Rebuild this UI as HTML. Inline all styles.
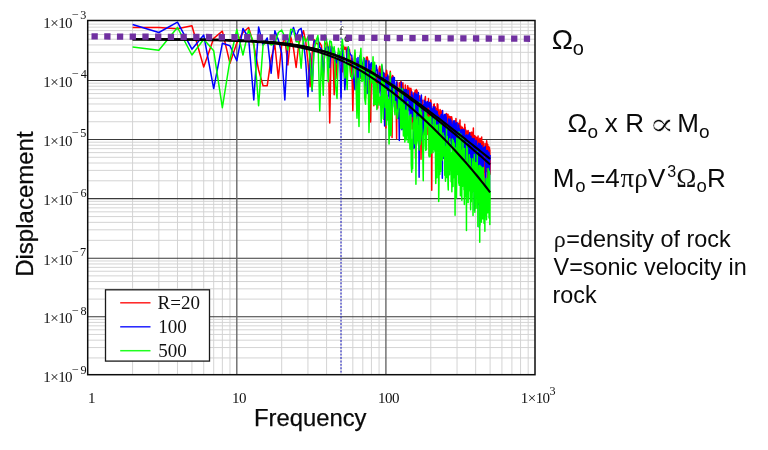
<!DOCTYPE html>
<html lang="en"><head><meta charset="utf-8"><title>Displacement spectra</title>
<style>
html,body{margin:0;padding:0;background:#fff;}
body{width:768px;height:450px;overflow:hidden;}
svg{display:block;}
.se{font-family:"Liberation Serif","DejaVu Serif",serif;fill:#111;}
.sa{font-family:"Liberation Sans","DejaVu Sans",sans-serif;fill:#0a0a0a;}
.ma{font-family:"DejaVu Math TeX Gyre","DejaVu Sans",sans-serif;fill:#0a0a0a;}
</style></head><body>
<svg width="768" height="450" viewBox="0 0 768 450">
<rect width="768" height="450" fill="#fff"/>
<path d="M132.58 20.5V374.7M158.84 20.5V374.7M177.47 20.5V374.7M191.92 20.5V374.7M203.72 20.5V374.7M213.70 20.5V374.7M222.35 20.5V374.7M229.98 20.5V374.7M281.68 20.5V374.7M307.94 20.5V374.7M326.57 20.5V374.7M341.02 20.5V374.7M352.82 20.5V374.7M362.80 20.5V374.7M371.45 20.5V374.7M379.08 20.5V374.7M430.78 20.5V374.7M457.04 20.5V374.7M475.67 20.5V374.7M490.12 20.5V374.7M501.92 20.5V374.7M511.90 20.5V374.7M520.55 20.5V374.7M528.18 20.5V374.7M87.7 62.72H535.0M87.7 52.33H535.0M87.7 44.95H535.0M87.7 39.23H535.0M87.7 34.55H535.0M87.7 30.60H535.0M87.7 27.17H535.0M87.7 24.15H535.0M87.7 121.74H535.0M87.7 111.35H535.0M87.7 103.98H535.0M87.7 98.26H535.0M87.7 93.59H535.0M87.7 89.64H535.0M87.7 86.22H535.0M87.7 83.20H535.0M87.7 180.81H535.0M87.7 170.40H535.0M87.7 163.02H535.0M87.7 157.29H535.0M87.7 152.61H535.0M87.7 148.65H535.0M87.7 145.23H535.0M87.7 142.20H535.0M87.7 240.33H535.0M87.7 229.82H535.0M87.7 222.36H535.0M87.7 216.57H535.0M87.7 211.84H535.0M87.7 207.85H535.0M87.7 204.39H535.0M87.7 201.33H535.0M87.7 299.12H535.0M87.7 288.84H535.0M87.7 281.54H535.0M87.7 275.88H535.0M87.7 271.26H535.0M87.7 267.35H535.0M87.7 263.96H535.0M87.7 260.97H535.0M87.7 357.94H535.0M87.7 347.55H535.0M87.7 340.18H535.0M87.7 334.46H535.0M87.7 329.79H535.0M87.7 325.84H535.0M87.7 322.42H535.0M87.7 319.40H535.0" stroke="#d2d2d2" stroke-width="0.95" fill="none"/>
<path d="M87.7 80.50H535.0M87.7 139.50H535.0M87.7 198.60H535.0M87.7 258.30H535.0M87.7 316.70H535.0" stroke="#3a3a3a" stroke-width="1.1" fill="none"/>
<path d="M236.80 20.5V374.7M385.90 20.5V374.7" stroke="#6a6a6a" stroke-width="1.4" fill="none"/>
<path d="M341.02 20.5V374.7" stroke="#3838c8" stroke-width="1.2" stroke-dasharray="1.9 1.5" fill="none"/>
<polyline points="132.58,27.50 158.84,27.50 177.47,28.70 191.92,25.80 203.72,67.00 213.70,38.30 222.35,31.20 229.98,63.30 236.80,43.00 242.97,32.50 248.61,27.50 253.79,45.00 258.59,70.00 263.06,85.70 267.23,85.70 271.16,58.30 274.86,45.00 278.36,78.30 281.68,45.00 284.84,38.30 287.86,65.00 290.73,36.70 293.49,48.30 296.13,67.50 298.67,45.00 301.12,36.70 303.47,30.80 305.74,41.70 307.94,61.70 310.06,86.70 312.12,53.30 314.11,39.72 316.04,43.13 317.92,44.14 319.74,42.79 321.52,45.96 323.25,81.21 324.93,44.58 326.57,42.02 328.17,47.68 329.73,123.00 331.25,45.95 332.74,49.29 334.19,94.72 335.62,55.50 337.01,78.42 338.37,52.73 339.71,52.87 341.02,54.55 342.30,71.86 343.56,46.01 344.79,49.28 346.00,47.04 347.19,64.30 348.35,63.57 349.50,49.65 350.63,76.31 351.73,58.24 352.82,110.74 353.89,63.27 354.95,52.88 355.98,70.76 357.00,76.38 358.01,61.80 358.99,63.23 359.97,66.55 360.93,78.32 361.87,76.75 362.80,63.85 363.72,62.98 364.63,61.21 365.52,97.83 366.40,57.17 367.27,57.02 368.13,62.00 368.98,99.64 369.81,77.55 370.64,121.98 371.45,68.47 372.26,69.20 373.05,66.00 373.83,105.77 374.61,83.75 375.38,71.46 376.13,93.57 376.88,76.68 377.62,108.12 378.35,98.21 379.08,68.85 379.79,66.29 380.50,90.71 381.20,68.92 381.89,72.06 382.58,76.16 383.26,72.40 383.93,119.55 384.59,73.44 385.25,75.00 385.90,127.97 386.54,70.33 387.18,74.57 387.81,79.00 388.44,80.84 389.06,76.40 389.67,99.10 390.28,71.33 390.88,78.18 391.48,77.22 392.07,137.49 392.66,75.55 393.24,77.87 393.81,77.90 394.38,101.44 394.95,103.98 395.51,100.16 396.07,96.25 396.62,138.47 397.16,82.04 397.71,110.45 398.24,111.55 398.78,116.22 399.30,82.71 399.83,105.69 400.35,84.96 400.87,81.27 401.38,84.51 401.89,116.87 402.39,85.82 402.89,82.81 403.39,90.55 403.88,93.63 404.37,91.94 404.85,106.82 405.33,85.06 405.81,92.71 406.29,107.56 406.76,98.11 407.22,96.65 407.69,85.67 408.15,89.91 408.61,88.75 409.06,87.94 409.51,91.61 409.96,103.15 410.41,89.86 410.85,88.30 411.29,90.59 411.72,92.13 412.16,129.02 412.59,95.84 413.01,119.99 413.44,92.96 413.86,95.18 414.28,97.03 414.69,94.31 415.11,90.54 415.52,158.36 415.93,117.30 416.33,89.59 416.74,115.28 417.14,90.67 417.54,115.57 417.93,102.39 418.33,94.46 418.72,95.34 419.11,118.98 419.49,99.57 419.88,96.09 420.26,99.73 420.64,120.30 421.02,159.21 421.39,135.57 421.77,132.37 422.14,124.69 422.51,101.54 422.87,100.09 423.24,139.16 423.60,122.61 423.96,106.08 424.32,126.54 424.68,121.51 425.03,98.93 425.38,96.49 425.74,106.62 426.08,138.63 426.43,120.41 426.78,108.91 427.12,134.46 427.46,103.88 427.80,104.94 428.14,122.66 428.48,98.41 428.81,108.58 429.14,155.47 429.48,133.30 429.80,115.12 430.13,125.73 430.46,116.16 430.78,99.89 431.11,103.75 431.43,119.45 431.75,190.25 432.07,123.32 432.38,122.92 432.70,110.11 433.01,127.57 433.32,108.05 433.63,104.59 433.94,107.01 434.25,103.90 434.56,111.64 434.86,108.41 435.16,106.69 435.47,108.08 435.77,140.55 436.07,109.86 436.36,108.85 436.66,111.63 436.96,120.27 437.25,103.64 437.54,135.21 437.83,104.47 438.12,113.07 438.41,109.85 438.70,113.47 438.98,154.58 439.27,140.31 439.55,111.88 439.83,138.04 440.11,109.56 440.39,112.08 440.67,116.67 440.95,130.16 441.23,113.81 441.50,111.02 441.77,120.97 442.05,112.48 442.32,118.57 442.59,116.84 442.86,117.52 443.13,117.91 443.39,137.21 443.66,117.66 443.92,121.64 444.19,154.61 444.45,142.06 444.71,142.22 444.97,145.66 445.23,114.29 445.49,117.06 445.75,117.38 446.01,117.08 446.26,138.27 446.52,113.55 446.77,132.46 447.02,118.26 447.27,116.97 447.52,123.04 447.77,131.31 448.02,114.22 448.27,145.38 448.52,123.30 448.76,122.61 449.01,146.68 449.25,116.24 449.49,141.34 449.73,130.43 449.98,120.01 450.22,140.62 450.46,116.84 450.69,127.29 450.93,124.72 451.17,121.52 451.40,119.17 451.64,116.75 451.87,118.25 452.11,121.15 452.34,127.74 452.57,124.63 452.80,122.74 453.03,135.00 453.26,143.77 453.49,133.51 453.72,121.70 453.94,128.42 454.17,152.69 454.40,125.15 454.62,124.20 454.84,129.19 455.07,122.85 455.29,120.61 455.51,140.44 455.73,165.14 455.95,118.48 456.17,123.05 456.39,138.27 456.61,123.61 456.82,125.55 457.04,155.08 457.25,139.62 457.47,123.09 457.68,132.56 457.90,164.76 458.11,124.22 458.32,145.42 458.53,123.29 458.74,157.85 458.95,160.97 459.16,155.47 459.37,128.22 459.58,127.08 459.79,124.09 459.99,120.07 460.20,146.40 460.40,145.53 460.61,127.75 460.81,127.83 461.02,126.30 461.22,143.91 461.42,132.10 461.62,146.43 461.82,156.62 462.02,175.29 462.22,159.59 462.42,127.25 462.62,132.34 462.82,158.05 463.01,130.19 463.21,130.28 463.41,143.92 463.60,129.06 463.80,167.49 463.99,158.62 464.18,150.96 464.38,139.48 464.57,128.99 464.76,124.32 464.95,131.81 465.14,127.14 465.33,136.47 465.52,144.95 465.71,152.34 465.90,129.94 466.09,142.94 466.28,135.01 466.46,166.24 466.65,152.10 466.84,132.62 467.02,131.27 467.21,131.59 467.39,159.64 467.57,143.00 467.76,153.01 467.94,152.05 468.12,130.56 468.30,137.53 468.48,131.89 468.66,135.89 468.84,137.53 469.02,136.79 469.20,139.70 469.38,154.72 469.56,165.98 469.74,184.61 469.92,136.50 470.09,132.59 470.27,173.82 470.44,134.23 470.62,133.57 470.79,161.01 470.97,133.27 471.14,133.78 471.32,166.19 471.49,141.60 471.66,133.13 471.83,132.13 472.00,156.06 472.18,137.49 472.35,157.78 472.52,140.71 472.69,136.83 472.85,142.18 473.02,136.78 473.19,136.41 473.36,128.07 473.53,157.02 473.69,138.48 473.86,147.57 474.03,154.31 474.19,135.55 474.36,169.42 474.52,143.29 474.69,141.19 474.85,137.89 475.02,135.91 475.18,136.84 475.34,179.77 475.51,139.67 475.67,136.42 475.83,138.65 475.99,161.01 476.15,163.81 476.31,163.29 476.47,142.35 476.63,143.59 476.79,138.16 476.95,137.76 477.11,140.35 477.27,137.87 477.42,159.40 477.58,139.54 477.74,146.54 477.89,140.17 478.05,136.06 478.21,173.47 478.36,167.61 478.52,195.92 478.67,148.12 478.83,139.21 478.98,139.17 479.13,142.57 479.29,146.01 479.44,140.58 479.59,167.99 479.74,142.32 479.90,138.35 480.05,145.52 480.20,138.48 480.35,148.38 480.50,152.99 480.65,176.68 480.80,171.99 480.95,143.64 481.10,178.16 481.25,142.21 481.40,148.82 481.54,141.10 481.69,137.12 481.84,143.46 481.99,166.71 482.13,210.16 482.28,164.24 482.42,202.88 482.57,166.55 482.72,143.29 482.86,145.24 483.01,143.41 483.15,141.65 483.29,146.23 483.44,156.38 483.58,167.73 483.72,167.04 483.87,149.01 484.01,187.76 484.15,172.32 484.29,153.96 484.44,149.06 484.58,172.39 484.72,170.69 484.86,157.29 485.00,143.46 485.14,148.42 485.28,149.47 485.42,150.13 485.56,159.86 485.70,171.73 485.83,149.98 485.97,151.14 486.11,146.78 486.25,147.69 486.38,149.63 486.52,145.83 486.66,140.78 486.80,143.12 486.93,147.34 487.07,165.28 487.20,159.11 487.34,189.20 487.47,179.87 487.61,147.22 487.74,144.25 487.88,162.41 488.01,146.56 488.14,152.67 488.28,172.24 488.41,178.80 488.54,172.86 488.68,146.93 488.81,150.91 488.94,167.51 489.07,147.03 489.20,149.84 489.33,172.17 489.47,147.77 489.60,149.64 489.73,149.93 489.86,150.25 489.99,174.29 490.12,159.98" stroke="#ff0000" stroke-width="1.5" fill="none" stroke-linejoin="round"/>
<polyline points="132.58,24.50 158.84,32.50 177.47,22.20 191.92,49.20 203.72,35.00 213.70,88.60 222.35,43.30 229.98,45.80 236.80,60.80 242.97,28.50 248.61,38.00 253.79,100.00 258.59,27.00 263.06,45.00 267.23,38.00 271.16,73.30 274.86,30.80 278.36,40.00 281.68,53.30 284.84,100.00 287.86,41.70 290.73,35.00 293.49,27.50 296.13,36.70 298.67,30.00 301.12,28.30 303.47,41.70 305.74,61.70 307.94,96.70 310.06,53.30 312.12,91.23 314.11,40.97 316.04,40.63 317.92,37.94 319.74,47.21 321.52,49.48 323.25,74.21 324.93,50.57 326.57,46.88 328.17,46.96 329.73,67.45 331.25,46.14 332.74,49.66 334.19,48.38 335.62,59.84 337.01,62.89 338.37,53.13 339.71,53.72 341.02,98.32 342.30,46.17 343.56,56.43 344.79,89.82 346.00,73.86 347.19,49.51 348.35,46.93 349.50,52.30 350.63,54.81 351.73,55.47 352.82,67.11 353.89,80.81 354.95,89.64 355.98,58.49 357.00,89.96 358.01,57.41 358.99,98.37 359.97,55.86 360.93,76.81 361.87,63.30 362.80,63.65 363.72,58.40 364.63,58.62 365.52,85.97 366.40,60.41 367.27,93.46 368.13,91.37 368.98,61.01 369.81,79.36 370.64,64.27 371.45,62.67 372.26,68.96 373.05,63.96 373.83,100.42 374.61,70.94 375.38,80.78 376.13,65.28 376.88,68.64 377.62,71.42 378.35,86.29 379.08,92.80 379.79,72.79 380.50,76.06 381.20,97.62 381.89,65.84 382.58,70.04 383.26,77.65 383.93,72.95 384.59,125.91 385.25,97.00 385.90,77.15 386.54,77.79 387.18,90.26 387.81,75.04 388.44,95.98 389.06,86.22 389.67,135.94 390.28,79.30 390.88,116.80 391.48,91.27 392.07,78.24 392.66,106.63 393.24,77.11 393.81,100.99 394.38,77.41 394.95,97.58 395.51,103.65 396.07,87.62 396.62,82.12 397.16,99.85 397.71,108.41 398.24,118.32 398.78,104.00 399.30,140.53 399.83,103.72 400.35,111.06 400.87,102.39 401.38,82.26 401.89,129.70 402.39,109.09 402.89,101.99 403.39,128.89 403.88,89.17 404.37,123.02 404.85,90.50 405.33,89.98 405.81,112.37 406.29,89.43 406.76,131.99 407.22,126.61 407.69,115.66 408.15,90.40 408.61,109.90 409.06,100.34 409.51,98.91 409.96,113.75 410.41,124.85 410.85,112.42 411.29,95.67 411.72,92.09 412.16,116.59 412.59,95.16 413.01,114.48 413.44,99.10 413.86,148.46 414.28,99.74 414.69,92.97 415.11,147.17 415.52,99.50 415.93,93.88 416.33,95.08 416.74,94.61 417.14,128.53 417.54,99.51 417.93,105.48 418.33,92.40 418.72,113.46 419.11,177.30 419.49,101.05 419.88,102.37 420.26,121.51 420.64,98.13 421.02,99.60 421.39,95.08 421.77,116.52 422.14,140.82 422.51,140.99 422.87,134.58 423.24,131.60 423.60,104.50 423.96,129.49 424.32,100.28 424.68,114.22 425.03,126.07 425.38,101.68 425.74,106.48 426.08,102.95 426.43,125.09 426.78,102.92 427.12,101.90 427.46,101.61 427.80,102.78 428.14,106.84 428.48,104.51 428.81,104.11 429.14,107.13 429.48,102.44 429.80,102.69 430.13,112.41 430.46,110.60 430.78,103.37 431.11,109.18 431.43,110.86 431.75,108.57 432.07,132.37 432.38,122.59 432.70,146.63 433.01,129.18 433.32,106.63 433.63,128.02 433.94,133.38 434.25,108.42 434.56,107.20 434.86,109.97 435.16,113.55 435.47,128.77 435.77,112.58 436.07,110.81 436.36,130.10 436.66,140.09 436.96,112.45 437.25,111.64 437.54,118.84 437.83,135.96 438.12,141.04 438.41,115.16 438.70,140.75 438.98,138.05 439.27,124.36 439.55,117.11 439.83,116.80 440.11,117.21 440.39,116.33 440.67,121.94 440.95,141.31 441.23,114.45 441.50,135.11 441.77,116.35 442.05,120.18 442.32,178.13 442.59,110.47 442.86,117.54 443.13,115.78 443.39,122.61 443.66,158.25 443.92,118.32 444.19,150.08 444.45,114.47 444.71,120.02 444.97,119.58 445.23,152.27 445.49,135.77 445.75,114.58 446.01,143.09 446.26,116.94 446.52,146.19 446.77,140.38 447.02,124.38 447.27,148.91 447.52,125.55 447.77,147.97 448.02,123.37 448.27,125.58 448.52,119.03 448.76,139.54 449.01,122.52 449.25,120.49 449.49,123.83 449.73,153.12 449.98,124.73 450.22,119.05 450.46,121.52 450.69,122.82 450.93,120.61 451.17,123.88 451.40,124.34 451.64,141.52 451.87,145.69 452.11,130.48 452.34,126.71 452.57,157.23 452.80,128.47 453.03,123.39 453.26,121.27 453.49,122.52 453.72,123.36 453.94,120.87 454.17,141.20 454.40,139.34 454.62,121.16 454.84,131.42 455.07,158.26 455.29,134.57 455.51,125.54 455.73,129.81 455.95,125.60 456.17,123.32 456.39,131.48 456.61,152.20 456.82,122.52 457.04,130.93 457.25,130.88 457.47,129.64 457.68,135.04 457.90,132.10 458.11,151.94 458.32,133.28 458.53,128.32 458.74,124.89 458.95,136.16 459.16,142.97 459.37,128.46 459.58,155.22 459.79,136.61 459.99,130.25 460.20,157.43 460.40,157.34 460.61,142.83 460.81,135.53 461.02,131.29 461.22,134.04 461.42,129.45 461.62,132.14 461.82,150.33 462.02,167.10 462.22,134.38 462.42,153.62 462.62,132.49 462.82,136.42 463.01,129.42 463.21,130.38 463.41,129.92 463.60,160.47 463.80,169.40 463.99,133.18 464.18,133.97 464.38,129.92 464.57,136.16 464.76,160.31 464.95,155.15 465.14,137.71 465.33,135.80 465.52,138.00 465.71,137.82 465.90,158.96 466.09,146.90 466.28,153.90 466.46,153.67 466.65,134.77 466.84,135.11 467.02,142.35 467.21,137.70 467.39,135.69 467.57,143.15 467.76,137.87 467.94,151.94 468.12,135.57 468.30,136.88 468.48,134.99 468.66,140.12 468.84,165.77 469.02,176.99 469.20,162.65 469.38,158.41 469.56,132.92 469.74,178.27 469.92,139.83 470.09,159.79 470.27,140.23 470.44,187.02 470.62,179.08 470.79,140.83 470.97,136.22 471.14,191.39 471.32,160.57 471.49,147.06 471.66,144.78 471.83,139.07 472.00,169.78 472.18,138.43 472.35,139.33 472.52,138.61 472.69,145.60 472.85,145.99 473.02,144.02 473.19,164.07 473.36,147.01 473.53,144.48 473.69,156.64 473.86,144.00 474.03,138.53 474.19,160.77 474.36,210.20 474.52,143.78 474.69,148.34 474.85,144.19 475.02,173.99 475.18,174.81 475.34,180.53 475.51,171.28 475.67,146.35 475.83,140.85 475.99,140.28 476.15,182.65 476.31,178.50 476.47,141.56 476.63,159.56 476.79,145.57 476.95,162.91 477.11,149.36 477.27,194.35 477.42,145.88 477.58,145.50 477.74,154.18 477.89,146.56 478.05,185.81 478.21,151.57 478.36,159.12 478.52,204.52 478.67,143.31 478.83,188.78 478.98,144.88 479.13,145.70 479.29,227.21 479.44,153.98 479.59,163.82 479.74,143.92 479.90,181.87 480.05,152.01 480.20,143.77 480.35,151.93 480.50,174.81 480.65,156.46 480.80,154.87 480.95,146.90 481.10,149.80 481.25,150.38 481.40,166.45 481.54,168.54 481.69,160.11 481.84,145.46 481.99,149.45 482.13,153.20 482.28,149.12 482.42,153.10 482.57,174.12 482.72,148.55 482.86,189.72 483.01,148.94 483.15,150.28 483.29,173.45 483.44,153.29 483.58,152.02 483.72,152.54 483.87,147.40 484.01,153.44 484.15,149.01 484.29,152.40 484.44,154.92 484.58,154.35 484.72,148.66 484.86,150.75 485.00,150.45 485.14,148.59 485.28,146.53 485.42,164.56 485.56,156.61 485.70,200.69 485.83,156.09 485.97,154.79 486.11,155.52 486.25,165.92 486.38,150.65 486.52,162.44 486.66,158.10 486.80,167.22 486.93,158.97 487.07,158.66 487.20,160.75 487.34,163.81 487.47,150.52 487.61,153.90 487.74,158.44 487.88,154.73 488.01,156.32 488.14,174.00 488.28,162.83 488.41,155.30 488.54,166.40 488.68,160.33 488.81,179.39 488.94,152.13 489.07,158.80 489.20,161.90 489.33,154.70 489.47,195.35 489.60,156.24 489.73,155.99 489.86,157.64 489.99,159.73 490.12,154.95" stroke="#0000ff" stroke-width="1.5" fill="none" stroke-linejoin="round"/>
<polyline points="132.58,47.00 158.84,50.30 177.47,27.50 191.92,55.00 203.72,39.20 213.70,50.80 222.35,107.70 229.98,60.00 236.80,29.70 242.97,55.00 248.61,30.00 253.79,43.00 258.59,105.70 263.06,45.00 267.23,41.50 271.16,45.00 274.86,43.30 278.36,32.50 281.68,30.00 284.84,36.70 287.86,50.00 290.73,29.20 293.49,30.00 296.13,41.70 298.67,41.70 301.12,68.30 303.47,36.70 305.74,41.70 307.94,36.70 310.06,60.00 312.12,90.00 314.11,49.68 316.04,41.17 317.92,35.57 319.74,111.00 321.52,54.12 323.25,95.26 324.93,35.05 326.57,39.29 328.17,81.78 329.73,40.98 331.25,41.69 332.74,53.55 334.19,46.76 335.62,85.50 337.01,98.51 338.37,48.18 339.71,53.42 341.02,55.68 342.30,39.16 343.56,51.79 344.79,78.06 346.00,63.27 347.19,89.53 348.35,46.78 349.50,64.00 350.63,73.99 351.73,78.54 352.82,76.55 353.89,64.76 354.95,49.96 355.98,83.89 357.00,118.27 358.01,78.19 358.99,126.57 359.97,58.49 360.93,48.36 361.87,81.41 362.80,80.71 363.72,57.59 364.63,97.57 365.52,104.27 366.40,75.97 367.27,69.04 368.13,72.37 368.98,132.46 369.81,95.42 370.64,75.94 371.45,73.05 372.26,82.94 373.05,56.74 373.83,104.67 374.61,62.37 375.38,104.62 376.13,83.43 376.88,109.61 377.62,99.67 378.35,82.33 379.08,105.17 379.79,98.24 380.50,96.85 381.20,122.62 381.89,64.19 382.58,98.25 383.26,118.79 383.93,78.86 384.59,87.53 385.25,107.49 385.90,88.32 386.54,125.00 387.18,94.92 387.81,119.91 388.44,99.62 389.06,143.88 389.67,120.86 390.28,72.71 390.88,135.53 391.48,123.69 392.07,112.68 392.66,92.03 393.24,102.74 393.81,85.11 394.38,107.69 394.95,114.78 395.51,101.56 396.07,110.98 396.62,109.54 397.16,118.47 397.71,116.30 398.24,108.79 398.78,96.88 399.30,107.38 399.83,87.46 400.35,115.00 400.87,128.73 401.38,102.18 401.89,128.07 402.39,88.48 402.89,104.87 403.39,136.10 403.88,107.32 404.37,104.77 404.85,141.90 405.33,128.21 405.81,110.18 406.29,139.85 406.76,131.98 407.22,107.99 407.69,101.68 408.15,142.61 408.61,123.28 409.06,137.92 409.51,115.97 409.96,148.88 410.41,120.49 410.85,114.55 411.29,164.96 411.72,172.28 412.16,139.26 412.59,168.82 413.01,122.97 413.44,130.49 413.86,128.52 414.28,101.97 414.69,143.75 415.11,117.49 415.52,111.29 415.93,184.13 416.33,119.59 416.74,144.12 417.14,141.10 417.54,117.11 417.93,140.62 418.33,125.47 418.72,128.81 419.11,149.88 419.49,102.26 419.88,127.80 420.26,144.54 420.64,109.06 421.02,131.27 421.39,112.30 421.77,127.86 422.14,138.09 422.51,143.42 422.87,155.74 423.24,180.68 423.60,136.13 423.96,132.65 424.32,130.01 424.68,128.21 425.03,110.60 425.38,146.42 425.74,150.43 426.08,112.44 426.43,149.62 426.78,115.76 427.12,126.55 427.46,124.50 427.80,117.11 428.14,121.48 428.48,121.16 428.81,122.14 429.14,156.78 429.48,116.88 429.80,131.27 430.13,156.76 430.46,127.32 430.78,116.03 431.11,153.40 431.43,150.56 431.75,124.88 432.07,139.68 432.38,143.76 432.70,128.63 433.01,152.62 433.32,118.82 433.63,140.37 433.94,149.34 434.25,147.96 434.56,138.59 434.86,151.32 435.16,116.17 435.47,154.25 435.77,183.45 436.07,161.24 436.36,125.42 436.66,158.34 436.96,177.74 437.25,125.01 437.54,164.01 437.83,159.08 438.12,152.93 438.41,135.87 438.70,201.51 438.98,184.57 439.27,123.99 439.55,139.04 439.83,174.40 440.11,133.44 440.39,128.35 440.67,125.16 440.95,171.18 441.23,120.17 441.50,143.50 441.77,150.22 442.05,154.76 442.32,160.07 442.59,156.76 442.86,147.29 443.13,133.10 443.39,144.67 443.66,156.00 443.92,135.74 444.19,153.65 444.45,139.34 444.71,175.17 444.97,155.58 445.23,146.58 445.49,181.27 445.75,157.85 446.01,164.36 446.26,172.04 446.52,125.42 446.77,177.50 447.02,150.68 447.27,136.47 447.52,166.43 447.77,170.78 448.02,185.07 448.27,189.89 448.52,143.74 448.76,152.40 449.01,161.68 449.25,170.26 449.49,174.69 449.73,138.83 449.98,154.60 450.22,170.61 450.46,162.48 450.69,165.57 450.93,154.47 451.17,181.82 451.40,152.79 451.64,166.00 451.87,191.80 452.11,169.29 452.34,138.98 452.57,185.60 452.80,163.29 453.03,186.41 453.26,140.60 453.49,178.07 453.72,149.77 453.94,166.20 454.17,170.37 454.40,143.19 454.62,155.33 454.84,161.11 455.07,215.29 455.29,160.44 455.51,147.89 455.73,179.39 455.95,166.93 456.17,175.62 456.39,198.33 456.61,176.84 456.82,138.20 457.04,172.74 457.25,169.72 457.47,174.39 457.68,164.76 457.90,152.10 458.11,173.57 458.32,169.22 458.53,134.73 458.74,183.17 458.95,132.04 459.16,185.17 459.37,165.36 459.58,181.79 459.79,178.02 459.99,141.55 460.20,137.69 460.40,195.80 460.61,139.58 460.81,133.94 461.02,150.85 461.22,188.44 461.42,172.03 461.62,177.37 461.82,200.15 462.02,150.47 462.22,179.15 462.42,160.65 462.62,186.18 462.82,150.06 463.01,138.03 463.21,157.11 463.41,181.73 463.60,166.53 463.80,156.19 463.99,189.92 464.18,166.11 464.38,204.51 464.57,148.58 464.76,177.77 464.95,172.65 465.14,163.55 465.33,174.34 465.52,168.14 465.71,172.07 465.90,197.07 466.09,166.02 466.28,175.15 466.46,230.55 466.65,142.70 466.84,156.91 467.02,152.16 467.21,161.16 467.39,148.17 467.57,160.70 467.76,192.39 467.94,183.39 468.12,202.43 468.30,178.35 468.48,163.68 468.66,198.82 468.84,179.03 469.02,177.09 469.20,190.91 469.38,154.64 469.56,172.86 469.74,175.32 469.92,158.20 470.09,160.96 470.27,158.42 470.44,163.64 470.62,209.73 470.79,185.21 470.97,184.03 471.14,186.30 471.32,201.70 471.49,167.29 471.66,180.21 471.83,192.02 472.00,182.04 472.18,170.39 472.35,173.49 472.52,158.66 472.69,170.27 472.85,185.47 473.02,215.43 473.19,161.80 473.36,170.75 473.53,188.43 473.69,178.96 473.86,191.37 474.03,181.80 474.19,182.66 474.36,154.54 474.52,167.86 474.69,170.98 474.85,212.33 475.02,167.01 475.18,202.92 475.34,208.47 475.51,177.47 475.67,181.69 475.83,162.63 475.99,180.12 476.15,180.91 476.31,173.36 476.47,175.33 476.63,186.25 476.79,166.48 476.95,208.20 477.11,167.91 477.27,151.60 477.42,171.61 477.58,170.74 477.74,176.89 477.89,226.54 478.05,189.44 478.21,175.86 478.36,175.90 478.52,189.80 478.67,194.95 478.83,186.10 478.98,165.80 479.13,186.84 479.29,202.69 479.44,168.40 479.59,178.01 479.74,242.23 479.90,165.36 480.05,225.35 480.20,188.22 480.35,182.63 480.50,193.75 480.65,180.65 480.80,169.99 480.95,180.35 481.10,166.65 481.25,184.29 481.40,222.30 481.54,191.08 481.69,179.62 481.84,183.53 481.99,196.10 482.13,177.67 482.28,168.34 482.42,196.83 482.57,195.74 482.72,218.87 482.86,200.35 483.01,176.59 483.15,206.21 483.29,167.45 483.44,177.17 483.58,180.95 483.72,205.46 483.87,176.80 484.01,223.32 484.15,216.90 484.29,200.17 484.44,201.08 484.58,208.46 484.72,198.64 484.86,231.31 485.00,185.44 485.14,194.31 485.28,190.38 485.42,195.66 485.56,186.82 485.70,210.00 485.83,195.84 485.97,185.37 486.11,178.61 486.25,206.58 486.38,214.18 486.52,219.67 486.66,192.84 486.80,207.38 486.93,188.88 487.07,197.16 487.20,201.55 487.34,208.13 487.47,194.85 487.61,178.81 487.74,212.64 487.88,198.23 488.01,183.64 488.14,168.51 488.28,171.22 488.41,186.41 488.54,181.48 488.68,182.67 488.81,180.83 488.94,174.12 489.07,217.95 489.20,183.13 489.33,171.14 489.47,173.72 489.60,173.37 489.73,195.55 489.86,224.57 489.99,199.32 490.12,191.84" stroke="#00ff00" stroke-width="1.5" fill="none" stroke-linejoin="round"/>
<polyline points="132.58,39.27 134.83,39.28 137.08,39.28 139.33,39.28 141.58,39.29 143.83,39.29 146.08,39.29 148.32,39.30 150.57,39.30 152.82,39.31 155.07,39.32 157.32,39.32 159.57,39.33 161.82,39.34 164.06,39.34 166.31,39.35 168.56,39.36 170.81,39.37 173.06,39.38 175.31,39.39 177.56,39.40 179.80,39.41 182.05,39.43 184.30,39.44 186.55,39.46 188.80,39.47 191.05,39.49 193.30,39.51 195.55,39.53 197.79,39.55 200.04,39.57 202.29,39.59 204.54,39.62 206.79,39.65 209.04,39.68 211.29,39.71 213.53,39.74 215.78,39.78 218.03,39.81 220.28,39.86 222.53,39.90 224.78,39.95 227.03,40.00 229.27,40.05 231.52,40.11 233.77,40.17 236.02,40.24 238.27,40.31 240.52,40.38 242.77,40.46 245.02,40.55 247.26,40.64 249.51,40.74 251.76,40.84 254.01,40.95 256.26,41.07 258.51,41.20 260.76,41.33 263.00,41.47 265.25,41.63 267.50,41.79 269.75,41.96 272.00,42.15 274.25,42.35 276.50,42.55 278.74,42.78 280.99,43.01 283.24,43.26 285.49,43.53 287.74,43.81 289.99,44.11 292.24,44.43 294.49,44.76 296.73,45.11 298.98,45.49 301.23,45.88 303.48,46.30 305.73,46.74 307.98,47.20 310.23,47.69 312.47,48.20 314.72,48.74 316.97,49.30 319.22,49.90 321.47,50.51 323.72,51.16 325.97,51.84 328.21,52.54 330.46,53.28 332.71,54.05 334.96,54.84 337.21,55.67 339.46,56.53 341.71,57.42 343.96,58.34 346.20,59.29 348.45,60.27 350.70,61.28 352.95,62.33 355.20,63.40 357.45,64.51 359.70,65.64 361.94,66.80 364.19,67.99 366.44,69.21 368.69,70.45 370.94,71.72 373.19,73.01 375.44,74.33 377.68,75.68 379.93,77.05 382.18,78.43 384.43,79.85 386.68,81.28 388.93,82.73 391.18,84.20 393.43,85.68 395.67,87.19 397.92,88.71 400.17,90.25 402.42,91.80 404.67,93.37 406.92,94.95 409.17,96.54 411.41,98.15 413.66,99.76 415.91,101.39 418.16,103.03 420.41,104.68 422.66,106.34 424.91,108.01 427.15,109.69 429.40,111.38 431.65,113.07 433.90,114.77 436.15,116.48 438.40,118.19 440.65,119.91 442.90,121.64 445.14,123.37 447.39,125.11 449.64,126.85 451.89,128.60 454.14,130.35 456.39,132.11 458.64,133.87 460.88,135.64 463.13,137.41 465.38,139.18 467.63,140.96 469.88,142.74 472.13,144.53 474.38,146.32 476.62,148.11 478.87,149.91 481.12,151.71 483.37,153.51 485.62,155.32 487.87,157.13 490.12,158.94" stroke="#000" stroke-width="2.1" fill="none"/>
<polyline points="132.58,39.29 134.83,39.30 137.08,39.30 139.33,39.31 141.58,39.31 143.83,39.32 146.08,39.32 148.32,39.33 150.57,39.33 152.82,39.34 155.07,39.35 157.32,39.35 159.57,39.36 161.82,39.37 164.06,39.38 166.31,39.39 168.56,39.40 170.81,39.41 173.06,39.42 175.31,39.43 177.56,39.45 179.80,39.46 182.05,39.47 184.30,39.49 186.55,39.51 188.80,39.52 191.05,39.54 193.30,39.56 195.55,39.58 197.79,39.61 200.04,39.63 202.29,39.66 204.54,39.69 206.79,39.72 209.04,39.75 211.29,39.78 213.53,39.82 215.78,39.86 218.03,39.90 220.28,39.94 222.53,39.99 224.78,40.04 227.03,40.09 229.27,40.15 231.52,40.21 233.77,40.28 236.02,40.35 238.27,40.42 240.52,40.50 242.77,40.58 245.02,40.67 247.26,40.77 249.51,40.87 251.76,40.98 254.01,41.10 256.26,41.22 258.51,41.35 260.76,41.49 263.00,41.64 265.25,41.80 267.50,41.97 269.75,42.15 272.00,42.34 274.25,42.54 276.50,42.76 278.74,42.99 280.99,43.23 283.24,43.49 285.49,43.77 287.74,44.06 289.99,44.36 292.24,44.69 294.49,45.03 296.73,45.40 298.98,45.78 301.23,46.19 303.48,46.61 305.73,47.06 307.98,47.54 310.23,48.04 312.47,48.56 314.72,49.11 316.97,49.69 319.22,50.29 321.47,50.93 323.72,51.59 325.97,52.28 328.21,53.00 330.46,53.75 332.71,54.54 334.96,55.35 337.21,56.19 339.46,57.07 341.71,57.98 343.96,58.92 346.20,59.89 348.45,60.90 350.70,61.93 352.95,63.00 355.20,64.10 357.45,65.22 359.70,66.38 361.94,67.57 364.19,68.79 366.44,70.03 368.69,71.30 370.94,72.60 373.19,73.93 375.44,75.28 377.68,76.66 379.93,78.06 382.18,79.49 384.43,80.93 386.68,82.40 388.93,83.89 391.18,85.40 393.43,86.93 395.67,88.48 397.92,90.05 400.17,91.63 402.42,93.24 404.67,94.85 406.92,96.49 409.17,98.13 411.41,99.80 413.66,101.47 415.91,103.16 418.16,104.87 420.41,106.58 422.66,108.31 424.91,110.05 427.15,111.79 429.40,113.55 431.65,115.32 433.90,117.11 436.15,118.90 438.40,120.70 440.65,122.50 442.90,124.32 445.14,126.15 447.39,127.99 449.64,129.83 451.89,131.68 454.14,133.55 456.39,135.42 458.64,137.29 460.88,139.18 463.13,141.08 465.38,142.98 467.63,144.90 469.88,146.82 472.13,148.75 474.38,150.69 476.62,152.64 478.87,154.60 481.12,156.56 483.37,158.54 485.62,160.52 487.87,162.51 490.12,164.51" stroke="#000" stroke-width="2.1" fill="none"/>
<polyline points="132.58,39.41 134.83,39.41 137.08,39.42 139.33,39.43 141.58,39.44 143.83,39.45 146.08,39.46 148.32,39.47 150.57,39.48 152.82,39.49 155.07,39.50 157.32,39.52 159.57,39.53 161.82,39.55 164.06,39.56 166.31,39.58 168.56,39.59 170.81,39.61 173.06,39.63 175.31,39.65 177.56,39.67 179.80,39.69 182.05,39.71 184.30,39.74 186.55,39.76 188.80,39.79 191.05,39.82 193.30,39.85 195.55,39.88 197.79,39.91 200.04,39.95 202.29,39.99 204.54,40.02 206.79,40.07 209.04,40.11 211.29,40.16 213.53,40.21 215.78,40.26 218.03,40.32 220.28,40.37 222.53,40.44 224.78,40.50 227.03,40.57 229.27,40.65 231.52,40.72 233.77,40.81 236.02,40.90 238.27,40.99 240.52,41.09 242.77,41.19 245.02,41.31 247.26,41.42 249.51,41.55 251.76,41.68 254.01,41.82 256.26,41.97 258.51,42.13 260.76,42.30 263.00,42.48 265.25,42.66 267.50,42.86 269.75,43.08 272.00,43.30 274.25,43.54 276.50,43.79 278.74,44.05 280.99,44.34 283.24,44.63 285.49,44.95 287.74,45.28 289.99,45.63 292.24,46.00 294.49,46.39 296.73,46.80 298.98,47.23 301.23,47.69 303.48,48.17 305.73,48.68 307.98,49.21 310.23,49.77 312.47,50.35 314.72,50.97 316.97,51.61 319.22,52.28 321.47,52.99 323.72,53.72 325.97,54.49 328.21,55.29 330.46,56.12 332.71,56.99 334.96,57.89 337.21,58.82 339.46,59.79 341.71,60.80 343.96,61.83 346.20,62.91 348.45,64.02 350.70,65.17 352.95,66.35 355.20,67.56 357.45,68.81 359.70,70.10 361.94,71.42 364.19,72.77 366.44,74.15 368.69,75.57 370.94,77.02 373.19,78.51 375.44,80.02 377.68,81.57 379.93,83.14 382.18,84.74 384.43,86.37 386.68,88.04 388.93,89.72 391.18,91.44 393.43,93.18 395.67,94.95 397.92,96.75 400.17,98.57 402.42,100.42 404.67,102.29 406.92,104.19 409.17,106.11 411.41,108.05 413.66,110.02 415.91,112.01 418.16,114.02 420.41,116.06 422.66,118.13 424.91,120.21 427.15,122.32 429.40,124.45 431.65,126.61 433.90,128.78 436.15,130.99 438.40,133.22 440.65,135.47 442.90,137.74 445.14,140.05 447.39,142.38 449.64,144.73 451.89,147.12 454.14,149.53 456.39,151.97 458.64,154.43 460.88,156.93 463.13,159.45 465.38,162.01 467.63,164.59 469.88,167.21 472.13,169.86 474.38,172.55 476.62,175.27 478.87,178.03 481.12,180.82 483.37,183.65 485.62,186.52 487.87,189.44 490.12,192.39" stroke="#000" stroke-width="2.1" fill="none"/>
<rect x="339.6" y="24.8" width="3.2" height="12" fill="#fff"/>
<text class="se"><tspan x="339" y="35.4" font-size="13.2">f</tspan><tspan x="343.9" y="42.1" font-size="12.5">c</tspan></text>
<path d="M91.5 36.4L530.4 38.75" stroke="#7030a0" stroke-width="6.3" stroke-dasharray="6.3 6.415" fill="none"/>
<rect x="87.7" y="20.5" width="447.30" height="354.20" fill="none" stroke="#0c0c0c" stroke-width="1.5"/>
<rect x="105.5" y="289.8" width="104" height="71.3" fill="#fff" stroke="#1a1a1a" stroke-width="1.3"/>
<path d="M120.2 302.8H150.5" stroke="#ff2020" stroke-width="1.5"/>
<path d="M120.2 326.8H150.5" stroke="#2020ff" stroke-width="1.5"/>
<path d="M120.2 350.7H150.5" stroke="#20ff20" stroke-width="1.5"/>
<text x="157.5" y="309.2" class="se" font-size="19">R=20</text>
<text x="158.3" y="333.3" class="se" font-size="19">100</text>
<text x="158.3" y="357.4" class="se" font-size="19">500</text>
<text class="se"><tspan x="43.30" y="27.9" font-size="15" letter-spacing="-0.55">1×10</tspan><tspan x="71.89" y="19.4" font-size="12.2">−</tspan><tspan x="80.32" y="19.4" font-size="12.2">3</tspan></text>
<text class="se"><tspan x="43.30" y="87.0" font-size="15" letter-spacing="-0.55">1×10</tspan><tspan x="71.89" y="78.4" font-size="12.2">−</tspan><tspan x="80.66" y="78.4" font-size="12.2">4</tspan></text>
<text class="se"><tspan x="43.30" y="146.0" font-size="15" letter-spacing="-0.55">1×10</tspan><tspan x="71.89" y="137.4" font-size="12.2">−</tspan><tspan x="80.19" y="137.4" font-size="12.2">5</tspan></text>
<text class="se"><tspan x="43.30" y="205.1" font-size="15" letter-spacing="-0.55">1×10</tspan><tspan x="71.89" y="196.5" font-size="12.2">−</tspan><tspan x="80.38" y="196.5" font-size="12.2">6</tspan></text>
<text class="se"><tspan x="43.30" y="264.8" font-size="15" letter-spacing="-0.55">1×10</tspan><tspan x="71.89" y="256.2" font-size="12.2">−</tspan><tspan x="80.10" y="256.2" font-size="12.2">7</tspan></text>
<text class="se"><tspan x="43.30" y="323.2" font-size="15" letter-spacing="-0.55">1×10</tspan><tspan x="71.89" y="314.6" font-size="12.2">−</tspan><tspan x="80.44" y="314.6" font-size="12.2">8</tspan></text>
<text class="se"><tspan x="43.30" y="382.2" font-size="15" letter-spacing="-0.55">1×10</tspan><tspan x="71.89" y="373.6" font-size="12.2">−</tspan><tspan x="80.51" y="373.6" font-size="12.2">9</tspan></text>
<text x="87.9" y="402.7" class="se" font-size="15" letter-spacing="-0.55">1</text>
<text x="232.1" y="402.7" class="se" font-size="15" letter-spacing="-0.55">10</text>
<text x="378" y="402.7" class="se" font-size="15" letter-spacing="-0.55">100</text>
<text class="se"><tspan x="520.80" y="402.7" font-size="15" letter-spacing="-0.55">1×10</tspan><tspan x="549.42" y="395.0" font-size="12.2">3</tspan></text>
<text x="254" y="426" class="sa" font-size="23.8" stroke="#0a0a0a" stroke-width="0.25">Frequency</text>
<text transform="translate(32.6 276.8) rotate(-90)" class="sa" font-size="24" stroke="#0a0a0a" stroke-width="0.25">Displacement</text>
<text class="sa"><tspan x="551.69" y="49.3" font-size="28.5">Ω</tspan><tspan x="572.76" y="55.4" font-size="20">o</tspan></text>
<text class="sa"><tspan x="567.57" y="132.2" font-size="26.5">Ω</tspan><tspan x="587.50" y="137.8" font-size="19">o </tspan><tspan x="604.71" y="132.2" font-size="26">x </tspan><tspan x="625.27" y="132.2" font-size="26">R </tspan><tspan x="649.90" y="134.8" class="ma" font-size="32" textLength="23.25" lengthAdjust="spacingAndGlyphs" stroke="#fff" stroke-width="0.5">∝</tspan><tspan> </tspan><tspan x="677.37" y="132.2" font-size="26">M</tspan><tspan x="699.10" y="137.8" font-size="19">o</tspan></text>
<text class="sa"><tspan x="552.67" y="186.9" font-size="26">M</tspan><tspan x="575.22" y="192.3" font-size="18.5">o </tspan><tspan x="590.13" y="186.9" font-size="26">=4</tspan><tspan x="620.43" y="186.9" class="se" font-size="27">π</tspan><tspan x="634.16" y="186.9" class="se" font-size="27">ρ</tspan><tspan x="648.09" y="186.9" font-size="26">V</tspan><tspan x="667.29" y="177.4" font-size="16">3</tspan><tspan x="676.20" y="186.9" class="se" font-size="27">Ω</tspan><tspan x="696.52" y="192.3" font-size="18.5">o</tspan><tspan x="707.07" y="186.9" font-size="26">R</tspan></text>
<text class="sa"><tspan x="553.65" y="246.8" class="se" font-size="24">ρ</tspan><tspan x="566.3" y="246.8" font-size="23.4">=density of rock</tspan></text>
<text x="553.6" y="275" class="sa" font-size="23.4">V=sonic velocity in</text>
<text x="552.6" y="303.3" class="sa" font-size="23.3">rock</text>
</svg>
</body></html>
